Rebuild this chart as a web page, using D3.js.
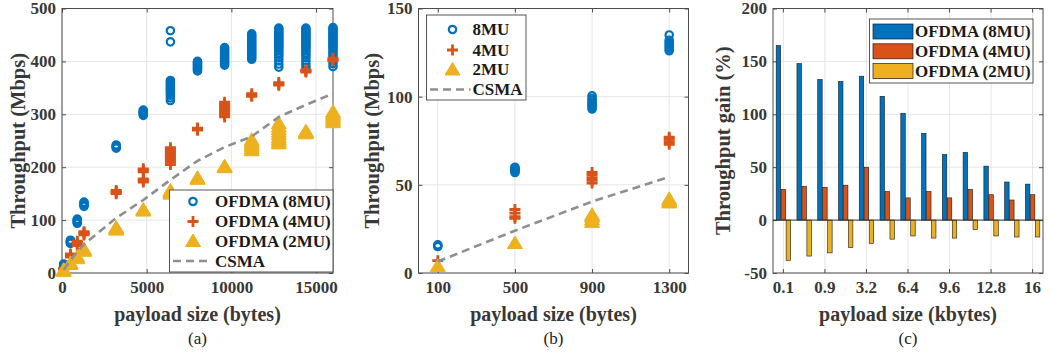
<!DOCTYPE html>
<html>
<head>
<meta charset="utf-8">
<script src="https://cdn.jsdelivr.net/npm/d3@7"></script>
<style>
  body { margin: 0; background: #fff; }
  svg text { font-family: "Liberation Serif", "Times New Roman", serif; }
</style>
</head>
<body>
<div id="canvas"></div>
<script>
// ---- data ----
// (a) throughput vs payload, several runs per payload size
const payloadA = [100, 500, 900, 1300, 3200, 4800, 6400, 8000, 9600, 11200, 12800, 14400, 16000];
const ofdma8A = [
  [14, 15, 16, 17],
  [56, 57, 58, 59, 60, 61, 62],
  [94, 96, 98, 100, 102],
  [126, 128, 130, 132, 134],
  [236, 238, 240, 242],
  [298, 300, 302, 304, 306, 308],
  [326, 331, 336, 340, 343, 346, 349, 352, 355, 358, 361, 364, 437, 458],
  [382, 384, 386, 388, 390, 392, 394, 396, 398, 400],
  [393, 396, 399, 402, 405, 408, 411, 414, 417, 420, 423, 426],
  [404, 407, 410, 413, 416, 419, 422, 425, 428, 431, 434, 437, 440, 443, 446, 449, 452],
  [389, 395, 401, 407, 412, 416, 420, 424, 427, 430, 433, 436, 439, 442, 445, 448, 451, 454, 457, 460, 463],
  [389, 395, 401, 407, 412, 416, 420, 424, 427, 430, 433, 436, 439, 442, 445, 448, 451, 454, 457, 460, 463],
  [390, 396, 402, 408, 413, 417, 421, 425, 428, 431, 434, 437, 440, 443, 446, 449, 452, 455, 458, 461, 464]
];
const ofdma4A = [
  [7, 9], [30, 33, 36], [52, 55, 58, 60], [72, 74, 76, 78],
  [150, 152, 154, 156], [172, 175, 178, 191, 194, 197],
  [205, 209, 213, 217, 221, 225, 229, 233, 237],
  [270, 272, 274],
  [295, 299, 303, 307, 311, 315, 319, 323],
  [334, 336, 339], [355, 357, 360], [380, 382, 384], [401, 403, 406]
];
const ofdma2A = [
  [4, 6], [17, 19], [28, 31], [42, 45],
  [82, 84, 86], [118, 120], [150, 153, 156], [178, 180], [200, 202],
  [232, 236, 240, 244, 248, 252],
  [245, 249, 253, 257, 262, 267, 272, 277, 283],
  [264, 266, 268],
  [285, 289, 293, 297, 301, 305]
];
const csmaA = [6, 24, 40, 54, 104, 138, 176, 212, 238, 258, 295, 318, 339];
const xTicksA = [0, 5000, 10000, 15000];
const yTicksA = [0, 100, 200, 300, 400, 500];

// (b) small payloads
const payloadB = [100, 500, 900, 1300];
const ofdma8B = [
  [15, 15.5, 16],
  [57, 57.5, 58, 58.5, 59, 59.5, 60],
  [93, 94, 95, 96, 97, 98, 99, 100.5],
  [126, 127, 128, 129, 130, 131, 132, 135]
];
const ofdma4B = [[7], [31, 32, 34, 36], [51, 52.5, 54, 55.5, 57], [73, 74.5, 76, 77]];
const ofdma2B = [[4], [17], [29, 30.5, 32, 33], [40, 41, 42]];
const csmaB = [6.5, 24, 40.5, 54.5];
const xTicksB = [100, 500, 900, 1300];
const yTicksB = [0, 50, 100, 150];

// (c) throughput gain over CSMA (%)
const payloadC = ["0.1", "0.5", "0.9", "1.3", "3.2", "4.8", "6.4", "8", "9.6", "11.2", "12.8", "14.4", "16"];
const gain8 = [165, 148, 133, 131, 136, 117, 101, 82, 62, 64, 51, 36, 34];
const gain4 = [29, 32, 31, 33, 50, 27, 21, 27, 21, 29, 24, 19, 24];
const gain2 = [-38, -34, -31, -26, -22, -18, -15, -17, -17, -9, -15, -16, -16];
const xTicksC = ["0.1", "0.9", "3.2", "6.4", "9.6", "12.8", "16"];
const yTicksC = [-50, 0, 50, 100, 150, 200];

const seriesNamesA = ["OFDMA (8MU)", "OFDMA (4MU)", "OFDMA (2MU)", "CSMA"];
const seriesNamesB = ["8MU", "4MU", "2MU", "CSMA"];
const seriesNamesC = ["OFDMA (8MU)", "OFDMA (4MU)", "OFDMA (2MU)"];

// ---- styling ----
const blue = "#0072BD", red = "#D95319", yellow = "#EDB120", dashGrey = "#8f8f8f";
const axisCol = "#4d4d4d", textCol = "#383838", gridCol = "#e6e6e6";

const svg = d3.select("#canvas").append("svg")
  .attr("width", 1052)
  .attr("height", 353);

const plotTop = 8.5, plotBottom = 273;

// draw an axes box with grid, inward ticks on all four sides and labels
function drawAxes(x, y, xTicks, yTicks, xLabel, yLabel, yLabelX, caption) {
  const [x0, x1] = x.range();
  const g = svg.append("g");
  const off = x.bandwidth ? x.bandwidth() / 2 : 0;

  // grid
  g.selectAll(".vg").data(xTicks).enter().append("line")
    .attr("x1", d => x(d) + off)
    .attr("x2", d => x(d) + off)
    .attr("y1", plotTop).attr("y2", plotBottom)
    .style("stroke", gridCol);
  g.selectAll(".hg").data(yTicks).enter().append("line")
    .attr("x1", x0).attr("x2", x1)
    .attr("y1", d => y(d)).attr("y2", d => y(d))
    .style("stroke", gridCol);

  const styleAxis = sel => {
    sel.select(".domain").remove();
    sel.selectAll(".tick line").style("stroke", axisCol);
    sel.selectAll("text")
      .style("font-size", "17px").style("font-weight", "bold")
      .style("fill", textCol);
  };

  g.append("g").attr("transform", "translate(0," + plotBottom + ")")
    .call(d3.axisBottom(x).tickValues(xTicks).tickFormat(d => d).tickSizeInner(-4).tickSizeOuter(0).tickPadding(8))
    .call(styleAxis);
  g.append("g").attr("transform", "translate(0," + plotTop + ")")
    .call(d3.axisTop(x).tickValues(xTicks).tickFormat("").tickSizeInner(-4).tickSizeOuter(0))
    .call(styleAxis);
  g.append("g").attr("transform", "translate(" + x0 + ",0)")
    .call(d3.axisLeft(y).tickValues(yTicks).tickFormat(d => d).tickSizeInner(-4).tickSizeOuter(0).tickPadding(6))
    .call(styleAxis);
  g.append("g").attr("transform", "translate(" + x1 + ",0)")
    .call(d3.axisRight(y).tickValues(yTicks).tickFormat("").tickSizeInner(-4).tickSizeOuter(0))
    .call(styleAxis);

  // box
  g.append("rect")
    .attr("x", x0).attr("y", plotTop)
    .attr("width", x1 - x0).attr("height", plotBottom - plotTop)
    .style("fill", "none").style("stroke", axisCol).style("stroke-width", 1);

  svg.append("text")
    .attr("x", (x0 + x1) / 2).attr("y", 321)
    .attr("text-anchor", "middle")
    .style("font-size", "20px").style("font-weight", "bold").style("fill", textCol)
    .text(xLabel);
  svg.append("text")
    .attr("transform", "translate(" + yLabelX + "," + (plotTop + plotBottom) / 2 + ") rotate(-90)")
    .attr("text-anchor", "middle")
    .attr("dy", "0.35em")
    .style("font-size", "20.5px").style("font-weight", "bold").style("fill", textCol)
    .text(yLabel);
  svg.append("text")
    .attr("x", (x0 + x1) / 2).attr("y", 344)
    .attr("text-anchor", "middle")
    .style("font-size", "17px").style("fill", "#222")
    .text(caption);
}

const circlePath = "M3.7,0A3.7,3.7 0 1,1 -3.7,0A3.7,3.7 0 1,1 3.7,0Z";
const plusPath = "M-5.5,0H5.5M0,-5.5V5.5";
const triPath = "M0,-7L7.5,5.5L-7.5,5.5Z";

function markerStyle(sel, kind) {
  if (kind === "o") sel.attr("d", circlePath).style("fill", "none").style("stroke", blue).style("stroke-width", 2.2);
  if (kind === "+") sel.attr("d", plusPath).style("fill", "none").style("stroke", red).style("stroke-width", 2.8);
  if (kind === "^") sel.attr("d", triPath).style("fill", yellow).style("stroke", yellow).style("stroke-width", 1);
}

// scatter: payload array + per-payload samples
function drawScatter(x, y, payload, samples, kind) {
  const pts = [];
  payload.forEach((p, i) => samples[i].forEach(v => pts.push({p: p, v: v})));
  svg.append("g").selectAll("path").data(pts).enter().append("path")
    .attr("transform", d => "translate(" + x(d.p) + "," + y(d.v) + ")")
    .call(markerStyle, kind);
}

function drawCsma(x, y, payload, vals) {
  svg.append("path")
    .datum(payload.map((p, i) => [p, vals[i]]))
    .attr("d", d3.line().x(d => x(d[0])).y(d => y(d[1])))
    .style("fill", "none").style("stroke", dashGrey)
    .style("stroke-width", 2.6).style("stroke-dasharray", "8,5");
}

function drawLegend(bx, by, bw, bh, names, rows, markerX, textX) {
  const g = svg.append("g");
  g.append("rect").attr("x", bx).attr("y", by).attr("width", bw).attr("height", bh)
    .style("fill", "#fff").style("stroke", "#444").style("stroke-width", 0.9);
  const kinds = ["o", "+", "^"];
  kinds.forEach((k, i) => {
    g.append("path").attr("transform", "translate(" + markerX + "," + rows[i] + ")").call(markerStyle, k);
  });
  g.append("line")
    .attr("x1", bx + 3.5).attr("x2", markerX + 18)
    .attr("y1", rows[3]).attr("y2", rows[3])
    .style("stroke", dashGrey).style("stroke-width", 2.6).style("stroke-dasharray", "8,5");
  g.selectAll("text").data(names).enter().append("text")
    .attr("x", textX).attr("y", (d, i) => rows[i]).attr("dy", "0.35em")
    .style("font-size", "17px").style("font-weight", "bold").style("fill", "#1a1a1a")
    .text(d => d);
}

// ---- (a) ----
const xA = d3.scaleLinear().domain([0, 16000]).range([62, 333]);
const yA = d3.scaleLinear().domain([0, 500]).range([plotBottom, plotTop]);
drawAxes(xA, yA, xTicksA, yTicksA, "payload size (bytes)", "Throughput (Mbps)", 18, "(a)");
drawScatter(xA, yA, payloadA, ofdma8A, "o");
drawScatter(xA, yA, payloadA, ofdma4A, "+");
drawScatter(xA, yA, payloadA, ofdma2A, "^");
drawCsma(xA, yA, payloadA, csmaA);
drawLegend(169.5, 190, 163.5, 82, seriesNamesA, [201.5, 221.5, 241, 261], 193, 215);

// ---- (b) ----
const xB = d3.scaleLinear().domain([0, 1400]).range([418.5, 688.5]);
const yB = d3.scaleLinear().domain([0, 150]).range([plotBottom, plotTop]);
drawAxes(xB, yB, xTicksB, yTicksB, "payload size (bytes)", "Throughput (Mbps)", 372, "(b)");
drawScatter(xB, yB, payloadB, ofdma8B, "o");
drawScatter(xB, yB, payloadB, ofdma4B, "+");
drawScatter(xB, yB, payloadB, ofdma2B, "^");
drawCsma(xB, yB, payloadB, csmaB);
drawLegend(426.5, 15, 99.5, 85, seriesNamesB, [29.5, 50, 69.5, 89.5], 452.5, 472.5);

// ---- (c) ----
const xC = d3.scaleBand().domain(payloadC).range([773, 1043]);
const yC = d3.scaleLinear().domain([-50, 200]).range([plotBottom, plotTop]);
drawAxes(xC, yC, xTicksC, yTicksC, "payload size (kbytes)", "Throughput gain (%)", 723, "(c)");

const step = xC.bandwidth();
const xSub = d3.scaleBand().domain([0, 1, 2])
  .range([step / 2 - 7.2, step / 2 + 7.2]).paddingInner(0.1);
const gainSeries = [gain8, gain4, gain2];
const barCols = [blue, red, yellow];

const barData = [];
payloadC.forEach((p, i) => gainSeries.forEach((s, k) => barData.push({p: p, k: k, v: s[i]})));
svg.append("g").selectAll("rect").data(barData).enter().append("rect")
  .attr("x", d => xC(d.p) + xSub(d.k))
  .attr("width", xSub.bandwidth())
  .attr("y", d => yC(Math.max(0, d.v)))
  .attr("height", d => Math.abs(yC(d.v) - yC(0)))
  .style("fill", d => barCols[d.k])
  .style("stroke", "#1a1a1a").style("stroke-width", 0.6);

// bar baseline
svg.append("line")
  .attr("x1", 773).attr("x2", 1043)
  .attr("y1", yC(0)).attr("y2", yC(0))
  .style("stroke", "#333").style("stroke-width", 1);

// legend (c)
const legC = svg.append("g");
legC.append("rect").attr("x", 869.5).attr("y", 19).attr("width", 163.5).attr("height", 64)
  .style("fill", "#fff").style("stroke", "#444").style("stroke-width", 0.9);
seriesNamesC.forEach((n, i) => {
  const cy = 31.5 + i * 19.8;
  legC.append("rect").attr("x", 873).attr("y", cy - 7.5).attr("width", 40).attr("height", 15)
    .style("fill", barCols[i]).style("stroke", "#1a1a1a").style("stroke-width", 0.7);
  legC.append("text").attr("x", 915).attr("y", cy).attr("dy", "0.35em")
    .style("font-size", "17px").style("font-weight", "bold").style("fill", "#1a1a1a")
    .text(n);
});
</script>
</body>
</html>
